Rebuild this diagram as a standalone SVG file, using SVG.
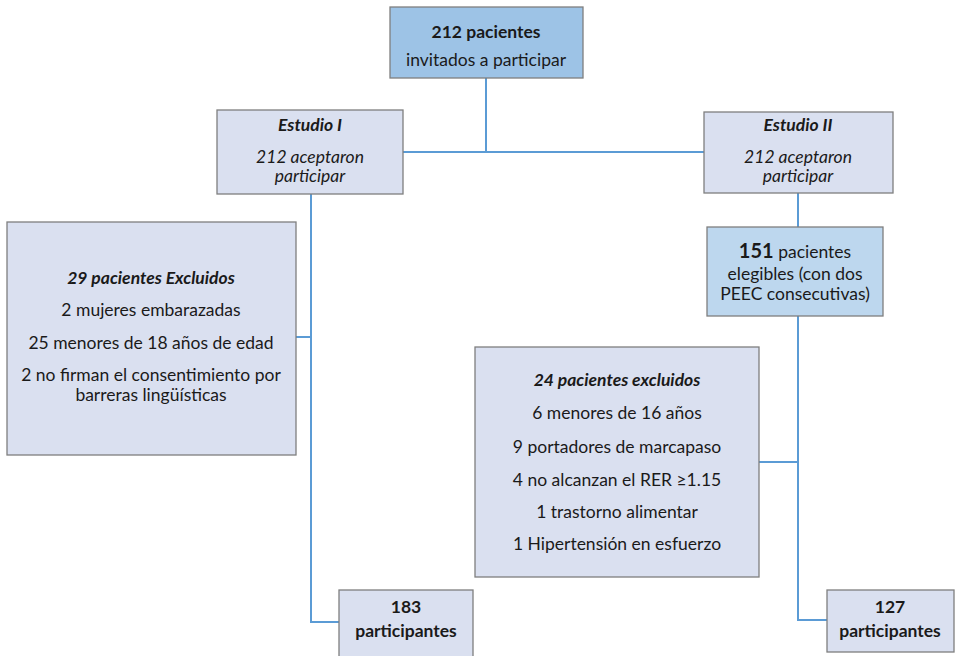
<svg xmlns="http://www.w3.org/2000/svg" width="955" height="656" viewBox="0 0 955 656">
<style>
.box{stroke:#7f7f7f;stroke-width:1.3}
.dark{fill:#9dc3e6}
.mid{fill:#bdd7ee}
.light{fill:#dae0f0}
.t{font-family:Lato,"Open Sans","Liberation Sans",sans-serif;font-size:17.5px;fill:#1a1a1a;text-anchor:middle}
.b{font-weight:bold}
.i{font-style:italic}
.c{fill:none;stroke:#5b9bd5;stroke-width:2}
</style>
<rect width="955" height="656" fill="#ffffff"/>
<g id="connectors">
<path class="c" d="M486 78V152M403 152H704"/>
<path class="c" d="M311 194V622H339M296 337H311"/>
<path class="c" d="M798 193V227M798 316V620H827M759 462H798"/>
</g>
<g id="n_top">
<rect class="box dark" x="390" y="7" width="193" height="71"/>
<text class="t b" x="486" y="38" font-size="20">212 pacientes</text>
<text class="t" x="486" y="66">invitados a participar</text>
</g>
<g id="n_estudio1">
<rect class="box light" x="217" y="110" width="186" height="84"/>
<text class="t b i" x="310" y="131" font-size="19.5">Estudio I</text>
<text class="t i" x="310" y="163" font-size="19.5">212 aceptaron</text>
<text class="t i" x="310" y="182" font-size="19.5">participar</text>
</g>
<g id="n_estudio2">
<rect class="box light" x="704" y="112" width="189" height="81"/>
<text class="t b i" x="798" y="131" font-size="19.5">Estudio II</text>
<text class="t i" x="798" y="163" font-size="19.5">212 aceptaron</text>
<text class="t i" x="798" y="182" font-size="19.5">participar</text>
</g>
<g id="n_excl1">
<rect class="box light" x="7" y="222" width="289" height="233"/>
<text class="t b i" x="151" y="284" font-size="18">29 pacientes Excluidos</text>
<text class="t" x="151" y="316">2 mujeres embarazadas</text>
<text class="t" x="151" y="349">25 menores de 18 años de edad</text>
<text class="t" x="151" y="381">2 no firman el consentimiento por</text>
<text class="t" x="151" y="401">barreras lingüísticas</text>
</g>
<g id="n_eleg">
<rect class="box mid" x="707" y="227" width="176" height="89"/>
<text class="t" x="795" y="258" font-size="18.5"><tspan class="b" font-size="20">151</tspan> pacientes</text>
<text class="t" x="795" y="280" font-size="18.5">elegibles (con dos</text>
<text class="t" x="795" y="300" font-size="18.5">PEEC consecutivas)</text>
</g>
<g id="n_excl2">
<rect class="box light" x="475" y="347" width="284" height="230"/>
<text class="t b i" x="617" y="386" font-size="18.5">24 pacientes excluidos</text>
<text class="t" x="617" y="419">6 menores de 16 años</text>
<text class="t" x="617" y="453">9 portadores de marcapaso</text>
<text class="t" x="617" y="486">4 no alcanzan el RER ≥1.15</text>
<text class="t" x="617" y="518">1 trastorno alimentar</text>
<text class="t" x="617" y="550">1 Hipertensión en esfuerzo</text>
</g>
<g id="n_part1">
<rect class="box light" x="339" y="590" width="134" height="70"/>
<text class="t b" x="406" y="613" font-size="20">183</text>
<text class="t b" x="406" y="637" font-size="20">participantes</text>
</g>
<g id="n_part2">
<rect class="box light" x="827" y="590" width="127" height="62"/>
<text class="t b" x="890" y="613" font-size="20">127</text>
<text class="t b" x="890" y="637" font-size="20">participantes</text>
</g>
</svg>
